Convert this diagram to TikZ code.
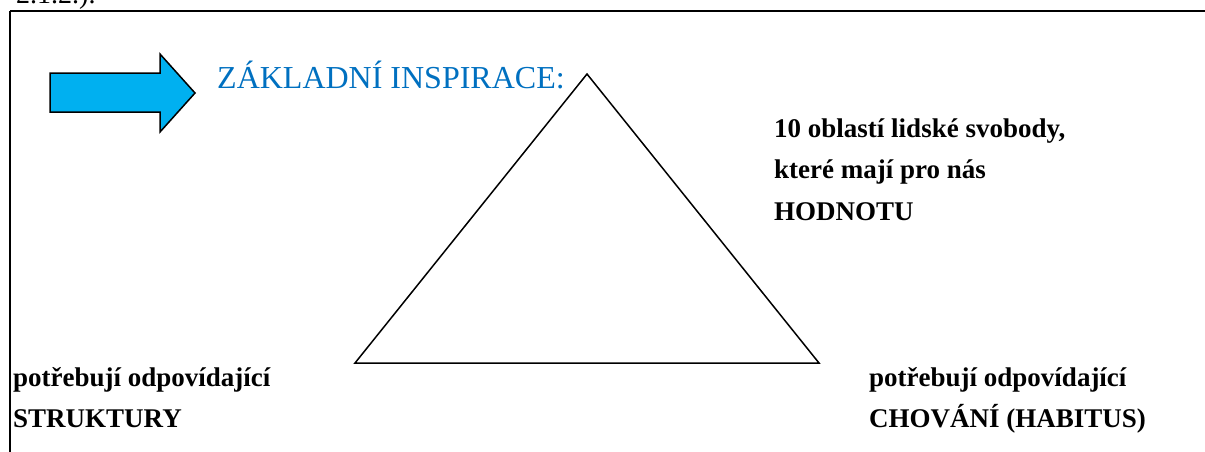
\documentclass[tikz,border=0pt]{standalone}
\usepackage{fontspec}
\setmainfont{Liberation Serif}
\definecolor{arrowblue}{HTML}{00B0F0}
\definecolor{titleblue}{HTML}{0070C0}
\tikzset{
  boldlabel/.style={anchor=base west, inner sep=0pt, font=\fontsize{27}{27}\selectfont\bfseries},
  titlelabel/.style={anchor=base west, inner sep=0pt, text=titleblue, font=\fontsize{32}{32}\selectfont},
  frameline/.style={line width=1.8pt, draw=black},
}
\begin{document}
\begin{tikzpicture}[x=1pt,y=-1pt]
\useasboundingbox (0,0) rectangle (1205,451);
\clip (0,0) rectangle (1205,451);
% clipped text above frame
\node[anchor=base west, inner sep=0pt, font=\fontsize{28}{28}\selectfont] (prev) at (16,3) {2.1.2.).};
% frame
\draw[frameline] (10,11) -- (1220,11);
\draw[frameline] (10,11) -- (10,470);
% block arrow
\draw[fill=arrowblue, line width=1.5pt, line join=miter]
  (50,73) -- (160,73) -- (160,54) -- (195,93) -- (160,132) -- (160,112) -- (50,112) -- cycle;
% title
\node[titlelabel] (title) at (217,88) {ZÁKLADNÍ INSPIRACE:};
% triangle
\coordinate (apex) at (587,74);
\coordinate (bl) at (355,363);
\coordinate (br) at (819,363);
\draw[line width=1.5pt, line join=miter] (apex) -- (bl) -- (br) -- cycle;
% texts
\node[boldlabel] (v1) at (774,137) {10 oblastí lidské svobody,};
\node[boldlabel] (v2) at (774,178) {které mají pro nás};
\node[boldlabel] (v3) at (774,220) {HODNOTU};
\node[boldlabel] (s1) at (13,386) {potřebují odpovídající};
\node[boldlabel] (s2) at (13,427) {STRUKTURY};
\node[boldlabel] (c1) at (869,386) {potřebují odpovídající};
\node[boldlabel] (c2) at (869,427) {CHOVÁNÍ (HABITUS)};
\end{tikzpicture}
\end{document}
